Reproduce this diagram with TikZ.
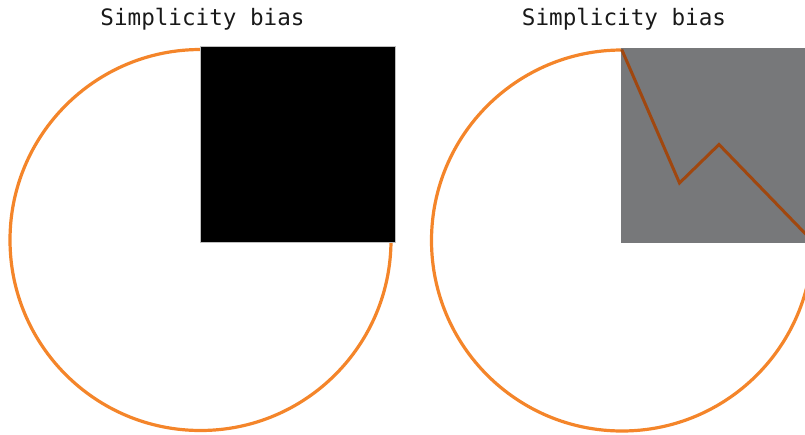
\documentclass[tikz,border=0pt]{standalone}
\usepackage{fontspec}
\newfontfamily\titlefont{DejaVu Sans Mono}
\definecolor{ringorange}{HTML}{F4852A}
\definecolor{pathbrown}{HTML}{A0470F}
\definecolor{boxgray}{HTML}{77787A}
\begin{document}
\begin{tikzpicture}[x=1pt,y=-1pt,
  ring/.style={draw=ringorange,line width=3.2pt},
  titletext/.style={font=\titlefont\fontsize{22.6}{26}\selectfont,text=black!90,inner sep=0pt,anchor=base},
  route/.style={draw=pathbrown,line width=3pt,line join=miter}]
\useasboundingbox (0,0) rectangle (805,434);
\clip (0,0) rectangle (805,434);
% left panel
\node[titletext] (t1) at (202.5,25.5) {Simplicity bias};
\draw[ring] (200.5,240) circle (190.5);
\fill[black] (200,46) rectangle (395.5,242);
\draw[black!25,line width=0.5pt] (200,46) rectangle (395.5,242);
% right panel
\node[titletext] (t2) at (624,25.5) {Simplicity bias};
\draw[ring] (622,240.5) circle (190.5);
\fill[boxgray] (621,48) rectangle (806,242.5);
\coordinate (p0) at (621.7,49.5);
\coordinate (p1) at (679.5,183);
\coordinate (p2) at (719,144.5);
\coordinate (p3) at (810,238.5);
\draw[route] (p0) -- (p1) -- (p2) -- (p3);
\end{tikzpicture}
\end{document}
